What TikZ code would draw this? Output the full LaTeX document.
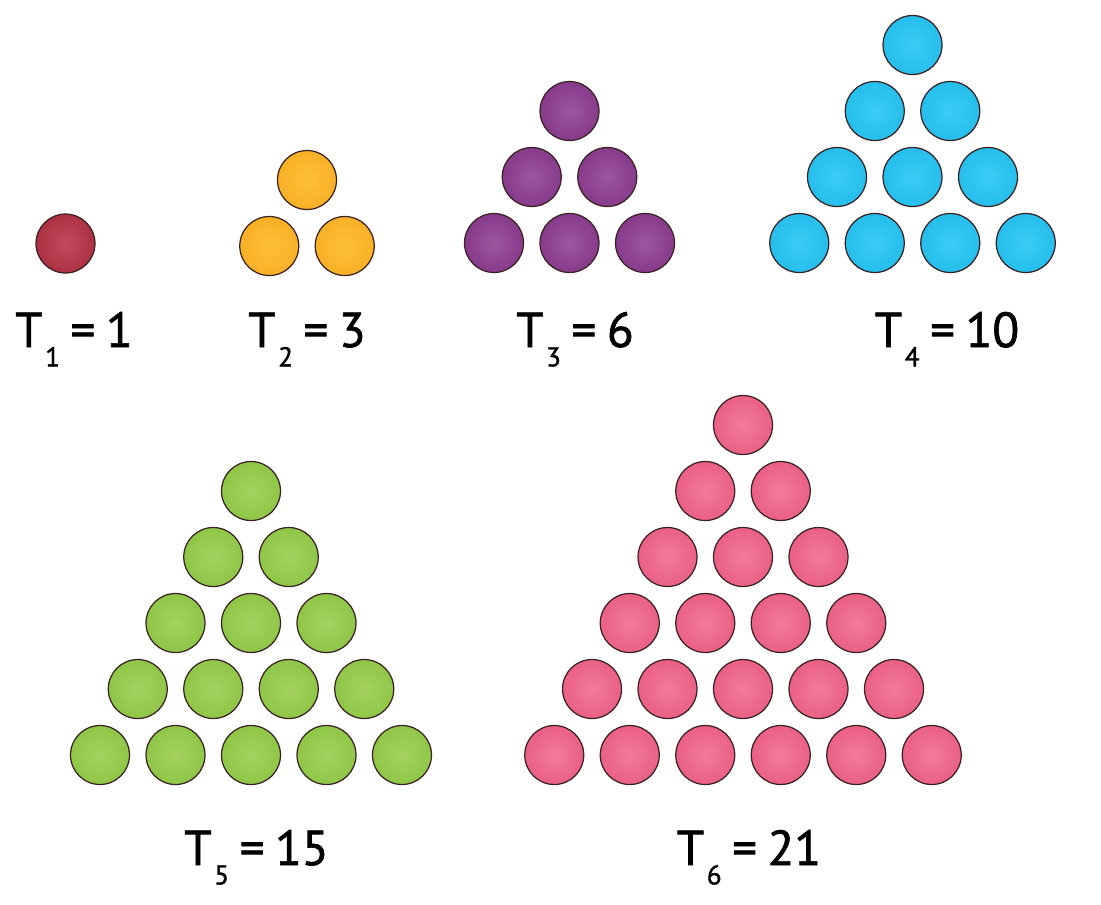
\documentclass[tikz,border=0pt]{standalone}
\usepackage{fontspec}
\setmainfont{PT Sans}
\newfontfamily\lblfont{PT Sans}[FakeBold=1.3]
\usepackage{tikz}
\usetikzlibrary{calc}

\definecolor{redIn}{HTML}{C04C5D}\definecolor{redOut}{HTML}{AC3042}
\definecolor{yelIn}{HTML}{FDC038}\definecolor{yelOut}{HTML}{F9B026}
\definecolor{purIn}{HTML}{9C579F}\definecolor{purOut}{HTML}{873A8B}
\definecolor{cyaIn}{HTML}{3BCCF5}\definecolor{cyaOut}{HTML}{25BEEC}
\definecolor{grnIn}{HTML}{A3D35E}\definecolor{grnOut}{HTML}{8FC647}
\definecolor{pnkIn}{HTML}{F27B98}\definecolor{pnkOut}{HTML}{EA6084}
\definecolor{rim}{HTML}{3A2222}

% T_n = m, subscript set low
\newcommand{\tnum}[2]{T\kern1.5pt\raisebox{-11pt}{\fontsize{15.5}{16}\selectfont #1}\kern6pt=\kern6pt#2}

% triangle of balls: apex x, apex y, rows, inner colour, outer colour
\newcommand{\balls}[5]{%
  \foreach \r in {1,...,#3}{
    \foreach \c in {1,...,\r}{
      \path[ball,inner color=#4,outer color=#5]
        ({#1+(\c-(\r+1)/2)*75.5},{#2+(\r-1)*66}) circle (0.59cm);
    }
  }}

\begin{document}
\begin{tikzpicture}[x=0.02cm,y=-0.02cm,
  ball/.style={draw=rim,line width=0.7pt},
  lbl/.style={anchor=base,inner sep=0pt,font=\lblfont\fontsize{28}{30}\selectfont}]
  \useasboundingbox (0,0) rectangle (1101,904);
  \fill[white] (0,0) rectangle (1101,904);
  % the six triangles
  \balls{65.5}{243.5}{1}{redIn}{redOut}
  \balls{307}{180}{2}{yelIn}{yelOut}
  \balls{569.5}{111}{3}{purIn}{purOut}
  \balls{912.5}{45}{4}{cyaIn}{cyaOut}
  \balls{251}{491}{5}{grnIn}{grnOut}
  \balls{743}{425}{6}{pnkIn}{pnkOut}
  % labels
  \node[lbl] (t1) at (74,347) {\tnum{1}{1}};
  \node[lbl] (t2) at (307,347) {\tnum{2}{3}};
  \node[lbl] (t3) at (575,347) {\tnum{3}{6}};
  \node[lbl] (t4) at (947,347) {\tnum{4}{10}};
  \node[lbl] (t5) at (256.5,865) {\tnum{5}{15}};
  \node[lbl] (t6) at (749,865) {\tnum{6}{21}};
\end{tikzpicture}
\end{document}
